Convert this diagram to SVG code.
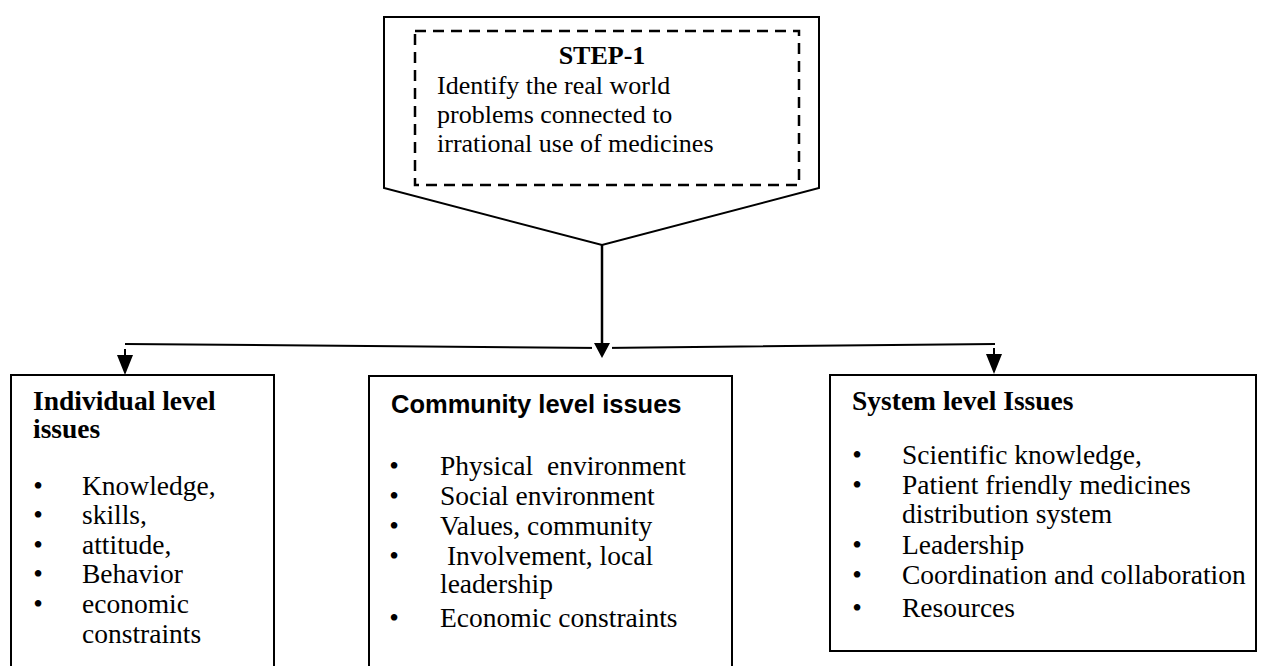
<svg xmlns="http://www.w3.org/2000/svg" width="1266" height="666" viewBox="0 0 1266 666">
<style>
.bg{fill:#fff}
.box{fill:#fff;stroke:#000;stroke-width:2}
.dash{fill:none;stroke:#000;stroke-width:2.5;stroke-dasharray:11 7}
.t{font-family:"Liberation Serif","Times New Roman",serif;font-size:27.5px;fill:#000;white-space:pre}
.tt{font-family:"Liberation Serif","Times New Roman",serif;font-size:26px;fill:#000}
.b{font-weight:bold}
.sans{font-family:"Liberation Sans",Arial,sans-serif;font-size:25.5px;font-weight:bold;fill:#000}
.ln{fill:none;stroke:#000;stroke-width:2}
.sh{fill:none;stroke:#000;stroke-width:2.5}
</style>
<defs>
<marker id="ah" markerWidth="20" markerHeight="16" refX="0" refY="8" orient="auto" markerUnits="userSpaceOnUse" viewBox="0 0 20 16">
<path d="M0,0 L20,8 L0,16 Z" fill="#000"/>
</marker>
</defs>
<rect class="bg" x="0" y="0" width="1266" height="666"/>

<g id="step1">
<polygon class="box" points="384,17 819,17 819,188 602,245 384,188"/>
<rect class="dash" x="415" y="31" width="384" height="154"/>
<text class="tt b" x="602" y="64" text-anchor="middle">STEP-1</text>
<text class="tt" x="437" y="94">Identify the real world</text>
<text class="tt" x="437" y="123">problems connected to</text>
<text class="tt" x="437" y="152">irrational use of medicines</text>
</g>

<g id="connectors">
<path class="ln" d="M125,344 L602,348 L995,344"/>
<line class="sh" x1="602" y1="245" x2="602" y2="344"/>
<rect x="592" y="344" width="20" height="8" fill="#fff"/>
<path d="M594,343 L610,343 L602,358 Z" fill="#000"/>
<line class="ln" x1="125" y1="349" x2="125" y2="355" marker-end="url(#ah)"/>
<line class="ln" x1="994" y1="348" x2="994" y2="354" marker-end="url(#ah)"/>
</g>

<g id="individual">
<rect class="box" x="11" y="375" width="263" height="300"/>
<text class="t b" x="33" y="410">Individual level</text>
<text class="t b" x="33" y="438">issues</text>
<text class="t" x="38" y="495" text-anchor="middle">•</text>
<text class="t" x="38" y="524" text-anchor="middle">•</text>
<text class="t" x="38" y="554" text-anchor="middle">•</text>
<text class="t" x="38" y="583" text-anchor="middle">•</text>
<text class="t" x="38" y="613" text-anchor="middle">•</text>
<text class="t" x="82" y="495">Knowledge,</text>
<text class="t" x="82" y="524">skills,</text>
<text class="t" x="82" y="554">attitude,</text>
<text class="t" x="82" y="583">Behavior</text>
<text class="t" x="82" y="613">economic</text>
<text class="t" x="82" y="643">constraints</text>
</g>

<g id="community">
<rect class="box" x="369" y="376" width="363" height="300"/>
<text class="sans" x="391" y="413">Community level issues</text>
<text class="t" x="394" y="475" text-anchor="middle">•</text>
<text class="t" x="394" y="505" text-anchor="middle">•</text>
<text class="t" x="394" y="535" text-anchor="middle">•</text>
<text class="t" x="394" y="565" text-anchor="middle">•</text>
<text class="t" x="394" y="627" text-anchor="middle">•</text>
<text class="t" x="440" y="475">Physical  environment</text>
<text class="t" x="440" y="505">Social environment</text>
<text class="t" x="440" y="535">Values, community</text>
<text class="t" x="440" y="565"> Involvement, local</text>
<text class="t" x="440" y="593">leadership</text>
<text class="t" x="440" y="627">Economic constraints</text>
</g>

<g id="system">
<rect class="box" x="830" y="375" width="426" height="276"/>
<text class="t b" x="852" y="410">System level Issues</text>
<text class="t" x="857" y="464" text-anchor="middle">•</text>
<text class="t" x="857" y="494" text-anchor="middle">•</text>
<text class="t" x="857" y="554" text-anchor="middle">•</text>
<text class="t" x="857" y="584" text-anchor="middle">•</text>
<text class="t" x="857" y="617" text-anchor="middle">•</text>
<text class="t" x="902" y="464">Scientific knowledge,</text>
<text class="t" x="902" y="494">Patient friendly medicines</text>
<text class="t" x="902" y="523">distribution system</text>
<text class="t" x="902" y="554">Leadership</text>
<text class="t" x="902" y="584">Coordination and collaboration</text>
<text class="t" x="902" y="617">Resources</text>
</g>
</svg>
